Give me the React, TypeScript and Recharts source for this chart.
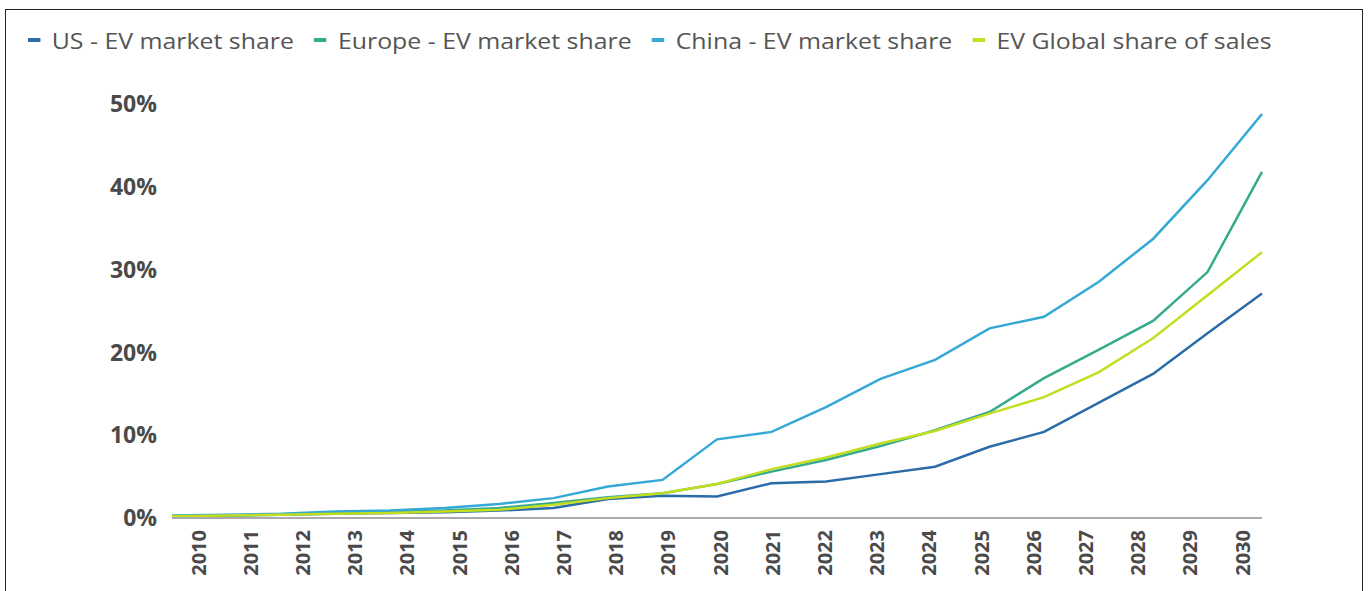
import { LineChart, Line, XAxis, YAxis } from 'recharts';

const years = ['2010', '2011', '2012', '2013', '2014', '2015', '2016', '2017', '2018', '2019', '2020',
  '2021', '2022', '2023', '2024', '2025', '2026', '2027', '2028', '2029', '2030'];

const usShare = [0.2, 0.3, 0.4, 0.5, 0.6, 0.7, 0.9, 1.2, 2.3, 2.7, 2.6, 4.2, 4.4, 5.3, 6.2, 8.6, 10.4, 13.9, 17.4, 22.3, 27.1];
const europeShare = [0.2, 0.3, 0.4, 0.6, 0.7, 0.9, 1.2, 1.8, 2.5, 3.0, 4.1, 5.6, 7.0, 8.7, 10.6, 12.8, 16.9, 20.3, 23.8, 29.7, 41.8];
const chinaShare = [0.3, 0.4, 0.5, 0.8, 0.9, 1.2, 1.7, 2.4, 3.8, 4.6, 9.5, 10.4, 13.4, 16.8, 19.1, 22.9, 24.3, 28.5, 33.7, 40.8, 48.8];
const globalShare = [0.2, 0.3, 0.4, 0.5, 0.6, 0.8, 1.0, 1.6, 2.4, 3.0, 4.1, 5.9, 7.3, 9.0, 10.5, 12.6, 14.6, 17.6, 21.7, 26.9, 32.1];

const yTicks = [0, 10, 20, 30, 40, 50];

const series = [
  { key: 'us', name: 'US - EV market share', color: '#2b6ca8' },
  { key: 'europe', name: 'Europe - EV market share', color: '#36aa8d' },
  { key: 'china', name: 'China - EV market share', color: '#35a9d5' },
  { key: 'global', name: 'EV Global share of sales', color: '#c3de1f' },
];

const data = years.map((year, i) => ({
  year,
  us: usShare[i],
  europe: europeShare[i],
  china: chinaShare[i],
  global: globalShare[i],
}));

const tickColor = '#4a4a4a';

function YearTick({ x, y, payload }: any) {
  return (
    <text
      x={x}
      y={y}
      transform={`rotate(-90, ${x}, ${y})`}
      textAnchor="end"
      dominantBaseline="central"
      fill={tickColor}
      fontSize={20}
      fontWeight={700}
      fontFamily="'Open Sans', sans-serif"
    >
      {payload.value}
    </text>
  );
}

export default function App() {
  return (
    <div
      style={{
        position: 'absolute',
        left: 5,
        top: 9,
        width: 1356,
        height: 600,
        border: '1px solid #222',
        background: '#fff',
        fontFamily: "'Open Sans', sans-serif",
      }}
    >
      {/* legend text in the source looks stretched sideways */}
      <div
        style={{
          position: 'absolute',
          left: 22,
          top: 15,
          display: 'flex',
          alignItems: 'center',
          fontSize: 22,
          color: '#555',
          whiteSpace: 'nowrap',
          transform: 'scaleX(1.13)',
          transformOrigin: 'left center',
        }}
      >
        {series.map((s) => (
          <div key={s.key} style={{ display: 'flex', alignItems: 'center', marginRight: 18 }}>
            <div style={{ width: 11, height: 3.5, background: s.color, marginRight: 10 }} />
            <span>{s.name}</span>
          </div>
        ))}
      </div>

      <LineChart width={1356} height={578} data={data} margin={{ top: 94, right: 100, bottom: 0, left: 0 }}>
        <XAxis xAxisId="pts" dataKey="year" hide />
        <XAxis
          xAxisId="lbl"
          dataKey="year"
          padding={{ left: 26, right: 20 }}
          height={70}
          tickSize={0}
          tickMargin={12}
          interval={0}
          axisLine={{ stroke: '#aaa', strokeWidth: 2 }}
          tick={<YearTick />}
        />
        <YAxis
          domain={[0, 50]}
          ticks={yTicks}
          width={166}
          axisLine={false}
          tickLine={false}
          tickSize={0}
          tickMargin={15}
          tickFormatter={(v) => `${v}%`}
          tick={{ fill: tickColor, fontSize: 23, fontWeight: 700 }}
        />
        {series.map((s) => (
          <Line
            key={s.key}
            xAxisId="pts"
            type="linear"
            dataKey={s.key}
            name={s.name}
            stroke={s.color}
            strokeWidth={2.5}
            dot={false}
            isAnimationActive={false}
          />
        ))}
      </LineChart>
    </div>
  );
}
